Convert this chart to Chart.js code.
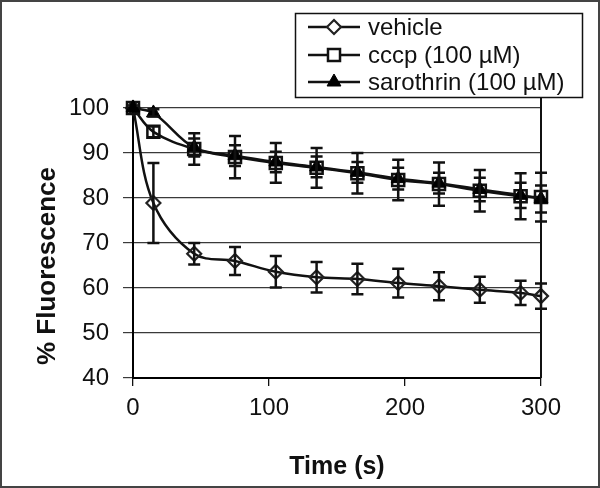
<!DOCTYPE html>
<html>
<head>
<meta charset="utf-8">
<script src="https://cdn.jsdelivr.net/npm/chart.js@4.4.1/dist/chart.umd.min.js"></script>
<style>
  html, body { margin: 0; padding: 0; background: #fff; }
  canvas { display: block; }
</style>
</head>
<body>
<canvas id="chart" width="600" height="488"></canvas>
<script>
// time points (s)
const times = [0, 15, 45, 75, 105, 135, 165, 195, 225, 255, 285, 300];

// % fluorescence
const vehicle = [100, 78.9, 67.6, 66.0, 63.6, 62.4, 62.0, 61.1, 60.4, 59.6, 58.9, 58.2];
const vehicleErr = [0, 8.9, 2.4, 3.1, 3.5, 3.4, 3.4, 3.2, 3.1, 2.9, 2.7, 2.8];

const cccp = [100, 94.7, 90.9, 89.1, 87.8, 86.7, 85.5, 84.0, 83.1, 81.6, 80.4, 80.2];
const cccpErr = [0, 1.2, 3.5, 4.7, 4.4, 4.4, 4.5, 4.5, 4.8, 4.6, 5.1, 5.4];

const sarothrin = [100, 98.9, 91.2, 89.4, 88.0, 86.9, 85.7, 84.3, 83.3, 81.9, 80.6, 79.8];
const sarothrinErr = [0, 0.8, 2.0, 2.3, 2.3, 2.3, 2.3, 2.4, 2.3, 2.6, 2.8, 3.0];

const seriesLabels = ["vehicle", "cccp (100 µM)", "sarothrin (100 µM)"];
const yTicks = [40, 50, 60, 70, 80, 90, 100];
const xTicks = [0, 100, 200, 300];

const FONT = "'Liberation Sans', Arial, Helvetica, sans-serif";
const INK = "#111";

const toXY = (vals) => vals.map((v, i) => ({ x: times[i], y: v }));

// error bars drawn with the chart's own scales
const errorBars = {
  id: "errorBars",
  afterDatasetsDraw(chart) {
    const ctx = chart.ctx;
    const yScale = chart.scales.y;
    ctx.save();
    ctx.strokeStyle = INK;
    ctx.lineWidth = 2.5;
    chart.data.datasets.forEach((ds, di) => {
      const meta = chart.getDatasetMeta(di);
      (ds.errors || []).forEach((err, i) => {
        if (!err) return;
        const pt = meta.data[i];
        const val = ds.data[i].y;
        const top = yScale.getPixelForValue(val + err);
        const bot = yScale.getPixelForValue(val - err);
        ctx.beginPath();
        ctx.moveTo(pt.x, top);
        ctx.lineTo(pt.x, bot);
        ctx.moveTo(pt.x - 6, top);
        ctx.lineTo(pt.x + 6, top);
        ctx.moveTo(pt.x - 6, bot);
        ctx.lineTo(pt.x + 6, bot);
        ctx.stroke();
      });
    });
    ctx.restore();
  },
};

// frame, right edge line, y title and the boxed legend
const decorations = {
  id: "decorations",
  beforeDraw(chart) {
    const ctx = chart.ctx;
    ctx.save();
    ctx.fillStyle = "#fff";
    ctx.fillRect(0, 0, chart.width, chart.height);
    ctx.restore();
  },
  afterDraw(chart) {
    const ctx = chart.ctx;
    const area = chart.chartArea;
    const xRight = chart.scales.x.getPixelForValue(300);
    ctx.save();

    // outer frame
    ctx.strokeStyle = "#444";
    ctx.lineWidth = 2;
    ctx.strokeRect(1, 1, chart.width - 2, chart.height - 2);

    // vertical line at the right end of the plot
    ctx.strokeStyle = INK;
    ctx.lineWidth = 2;
    ctx.beginPath();
    ctx.moveTo(xRight, 97);
    ctx.lineTo(xRight, area.top);
    ctx.stroke();

    // y axis title
    ctx.fillStyle = INK;
    ctx.font = "bold 26px " + FONT;
    ctx.textAlign = "center";
    ctx.textBaseline = "middle";
    ctx.translate(48, 266);
    ctx.rotate(-Math.PI / 2);
    ctx.fillText("% Fluorescence", 0, 0);
    ctx.setTransform(1, 0, 0, 1, 0, 0);

    // legend
    ctx.fillStyle = "#fff";
    ctx.fillRect(295, 13, 287, 84);
    ctx.strokeStyle = INK;
    ctx.lineWidth = 1.5;
    ctx.strokeRect(295.5, 13.5, 287, 84);
    const rows = [27, 55, 82];
    chart.data.datasets.forEach((ds, i) => {
      const y = rows[i];
      ctx.strokeStyle = INK;
      ctx.lineWidth = 2.5;
      ctx.beginPath();
      ctx.moveTo(308, y);
      ctx.lineTo(360, y);
      ctx.stroke();
      ctx.fillStyle = ds.legendFill;
      ctx.strokeStyle = ds.pointBorderColor;
      ctx.lineWidth = ds.pointBorderWidth;
      Chart.helpers.drawPoint(ctx, {
        pointStyle: ds.pointStyle,
        radius: ds.pointRadius,
        rotation: 0,
        borderWidth: ds.pointBorderWidth,
      }, 334, y);
      ctx.fillStyle = INK;
      ctx.font = "24px " + FONT;
      ctx.textAlign = "left";
      ctx.textBaseline = "middle";
      ctx.fillText(ds.label, 368, y + 1);
    });
    ctx.restore();
  },
};

// vertical line at x = 300 inside the plot, drawn under the markers
const rightEdge = {
  id: "rightEdge",
  beforeDatasetsDraw(chart) {
    const ctx = chart.ctx;
    const area = chart.chartArea;
    const xRight = chart.scales.x.getPixelForValue(300);
    ctx.save();
    ctx.strokeStyle = INK;
    ctx.lineWidth = 2;
    ctx.beginPath();
    ctx.moveTo(xRight, area.top);
    ctx.lineTo(xRight, area.bottom);
    ctx.stroke();
    ctx.restore();
  },
};

new Chart(document.getElementById("chart"), {
  type: "line",
  data: {
    datasets: [
      {
        label: seriesLabels[0],
        data: toXY(vehicle),
        errors: vehicleErr,
        borderColor: INK,
        borderWidth: 2.5,
        tension: 0.35,
        clip: false,
        pointStyle: "rectRot",
        pointRadius: 7,
        pointBackgroundColor: "rgba(255,255,255,0)",
        legendFill: "#fff",
        pointBorderColor: "#222",
        pointBorderWidth: 2.2,
        order: 2,
      },
      {
        label: seriesLabels[1],
        data: toXY(cccp),
        errors: cccpErr,
        borderColor: INK,
        borderWidth: 2.5,
        tension: 0.35,
        clip: false,
        pointStyle: "rect",
        pointRadius: 8.5,
        pointBackgroundColor: "rgba(255,255,255,0)",
        legendFill: "#fff",
        pointBorderColor: "#111",
        pointBorderWidth: 2.5,
        order: 1,
      },
      {
        label: seriesLabels[2],
        data: toXY(sarothrin),
        errors: sarothrinErr,
        borderColor: INK,
        borderWidth: 2.5,
        tension: 0.35,
        clip: false,
        pointStyle: "triangle",
        pointRadius: 8,
        pointBackgroundColor: "#000",
        legendFill: "#000",
        pointBorderColor: "#000",
        pointBorderWidth: 1,
        order: 0,
      },
    ],
  },
  options: {
    responsive: false,
    animation: false,
    devicePixelRatio: 1,
    layout: { padding: { top: 108, right: 59, bottom: 6, left: 0 } },
    plugins: {
      legend: { display: false },
      tooltip: { enabled: false },
    },
    scales: {
      x: {
        type: "linear",
        min: xTicks[0],
        max: xTicks[xTicks.length - 1],
        afterBuildTicks: (scale) => { scale.ticks = xTicks.map((v) => ({ value: v })); },
        afterFit: (scale) => { scale.height = 104; },
        ticks: { color: INK, font: { family: FONT, size: 24 }, padding: 8, maxRotation: 0 },
        grid: { drawOnChartArea: false, drawTicks: true, tickLength: 8, color: INK, lineWidth: 1.3 },
        border: { display: true, color: "#000", width: 2 },
        title: {
          display: true,
          text: "Time (s)",
          color: INK,
          font: { family: FONT, size: 25, weight: "bold" },
          padding: 0,
        },
      },
      y: {
        min: yTicks[0],
        max: yTicks[yTicks.length - 1],
        afterBuildTicks: (scale) => { scale.ticks = yTicks.map((v) => ({ value: v })); },
        afterFit: (scale) => { scale.width = 133; },
        ticks: { color: INK, font: { family: FONT, size: 24 }, padding: 14 },
        grid: { color: "#3a3a3a", lineWidth: 1.2, tickLength: 10, drawTicks: true },
        border: { display: true, color: "#000", width: 2 },
      },
    },
  },
  plugins: [rightEdge, errorBars, decorations],
});
</script>
</body>
</html>
